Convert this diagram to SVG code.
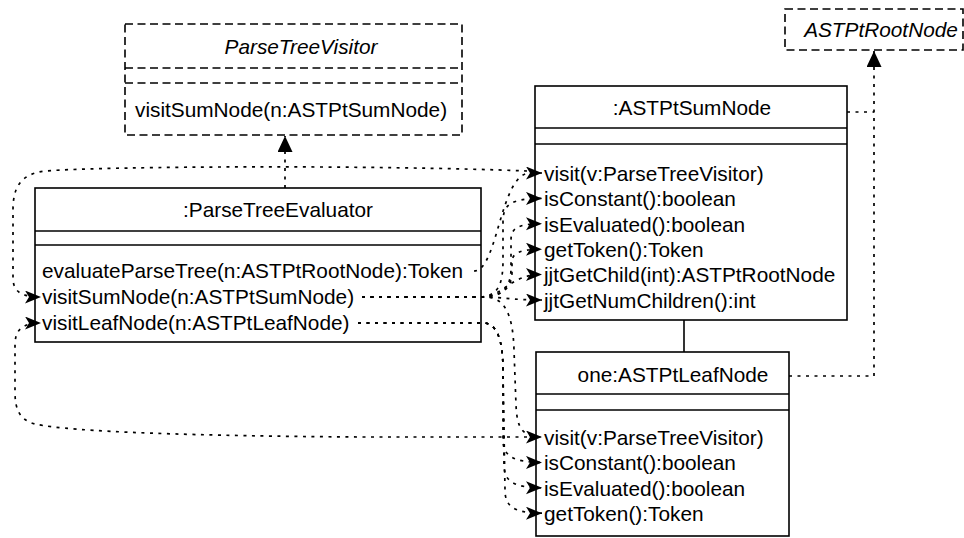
<svg xmlns="http://www.w3.org/2000/svg" width="964" height="538" viewBox="0 0 964 538">
<style>
.box{fill:#fff;stroke:#000;stroke-width:1.6}
.dbox{fill:#fff;stroke:#000;stroke-width:1.6;stroke-dasharray:8 4.5}
.dl{fill:none;stroke:#000;stroke-width:1.6;stroke-dasharray:8 4.5}
.ln{fill:none;stroke:#000;stroke-width:1.6}
.t{font-family:"Liberation Sans",Arial,Helvetica,sans-serif;font-size:20.8px;fill:#000}
.i{font-style:italic}
.m{text-anchor:middle}
.c{fill:none;stroke:#000;stroke-width:1.7;stroke-dasharray:3 5.5}
</style>
<defs>
<marker id="arr" markerUnits="userSpaceOnUse" markerWidth="17" markerHeight="14" refX="16" refY="6.5" orient="auto">
<path d="M0,0 L16,6.5 L0,13 L4,6.5 Z" fill="#000"/>
</marker>
<marker id="tri" markerUnits="userSpaceOnUse" markerWidth="17" markerHeight="16" refX="16" refY="7.5" orient="auto">
<path d="M0,0 L16,7.5 L0,15 Z" fill="#000"/>
</marker>
</defs>

<g id="ParseTreeVisitor">
<rect class="dbox" x="125" y="24" width="337" height="111"/>
<line class="dl" x1="125" y1="68" x2="462" y2="68"/>
<line class="dl" x1="125" y1="83" x2="462" y2="83"/>
<text class="t i m" x="301" y="54">ParseTreeVisitor</text>
<text class="t" x="135" y="117">visitSumNode(n:ASTPtSumNode)</text>
</g>

<g id="ASTPtRootNode">
<rect class="dbox" x="785" y="9" width="178" height="41"/>
<text class="t i m" x="881" y="37">ASTPtRootNode</text>
</g>

<g id="ParseTreeEvaluator">
<rect class="box" x="35" y="188" width="446" height="154"/>
<line class="ln" x1="35" y1="231" x2="481" y2="231"/>
<line class="ln" x1="35" y1="245" x2="481" y2="245"/>
<text class="t m" x="278" y="217">:ParseTreeEvaluator</text>
<text class="t" x="42" y="278">evaluateParseTree(n:ASTPtRootNode):Token</text>
<text class="t" x="42" y="304">visitSumNode(n:ASTPtSumNode)</text>
<text class="t" x="42" y="330">visitLeafNode(n:ASTPtLeafNode)</text>
</g>

<g id="ASTPtSumNode">
<rect class="box" x="535" y="86" width="312" height="234"/>
<line class="ln" x1="535" y1="128" x2="847" y2="128"/>
<line class="ln" x1="535" y1="144" x2="847" y2="144"/>
<text class="t m" x="692" y="115">:ASTPtSumNode</text>
<text class="t" x="544" y="181">visit(v:ParseTreeVisitor)</text>
<text class="t" x="544" y="206">isConstant():boolean</text>
<text class="t" x="544" y="231.5">isEvaluated():boolean</text>
<text class="t" x="544" y="257">getToken():Token</text>
<text class="t" x="544" y="282">jjtGetChild(int):ASTPtRootNode</text>
<text class="t" x="544" y="307.5">jjtGetNumChildren():int</text>
</g>

<g id="ASTPtLeafNode">
<rect class="box" x="536" y="352" width="253" height="184"/>
<line class="ln" x1="536" y1="394" x2="789" y2="394"/>
<line class="ln" x1="536" y1="410" x2="789" y2="410"/>
<text class="t m" x="673" y="382">one:ASTPtLeafNode</text>
<text class="t" x="544" y="444.5">visit(v:ParseTreeVisitor)</text>
<text class="t" x="544" y="470">isConstant():boolean</text>
<text class="t" x="544" y="495.5">isEvaluated():boolean</text>
<text class="t" x="544" y="521">getToken():Token</text>
</g>

<g id="connectors">
<line class="ln" x1="684" y1="320" x2="684" y2="352"/>
<path class="c" d="M285,188 L285,136" marker-end="url(#tri)"/>
<path class="c" d="M847,112 L874,112"/>
<path class="c" d="M789,376 L874,376 L874,51" marker-end="url(#tri)"/>
<path class="c" d="M474,271 C498,271 500,173 530,173 L542,173" marker-end="url(#arr)"/>
<path class="c" d="M527,171 C380,165 110,166 45,171 C20,174 13,188 13,210 L13,278 C13,292 22,297 41,297" marker-end="url(#arr)"/>
<path class="c" d="M527,437 L360,437 C200,436 70,432 35,424 C20,420 15,410 15,392 L15,345 C15,330 22,323 41,323" marker-end="url(#arr)"/>
<path class="c" d="M362,297 L480,297 C505,297 510,300 542,300" marker-end="url(#arr)"/>
<path class="c" d="M362,297 L478,297 C498,297 503,285 503,260 L503,222 C503,205 510,198.4 542,198.4" marker-end="url(#arr)"/>
<path class="c" d="M362,297 L480,297 C500,297 511,290 511,268 L511,240 C511,228 518,223.8 542,223.8" marker-end="url(#arr)"/>
<path class="c" d="M362,297 L480,297 C502,297 512,288 512,272 L512,262 C512,253 520,249.2 542,249.2" marker-end="url(#arr)"/>
<path class="c" d="M362,297 L480,297 C505,297 508,274.6 542,274.6" marker-end="url(#arr)"/>
<path class="c" d="M362,297 L485,297 C505,297 513,315 514,350 L516,405 C517,428 522,437 542,437" marker-end="url(#arr)"/>
<path class="c" d="M358,323 L483,323 C497,323 503,340 503,370 L503,440 C503,455 512,462.4 542,462.4" marker-end="url(#arr)"/>
<path class="c" d="M358,323 L483,323 C497,323 503,340 503,370 L504,465 C504,480 512,487.8 542,487.8" marker-end="url(#arr)"/>
<path class="c" d="M358,323 L483,323 C497,323 503,340 503,370 L505,490 C505,505 512,513.2 542,513.2" marker-end="url(#arr)"/>
</g>
</svg>
